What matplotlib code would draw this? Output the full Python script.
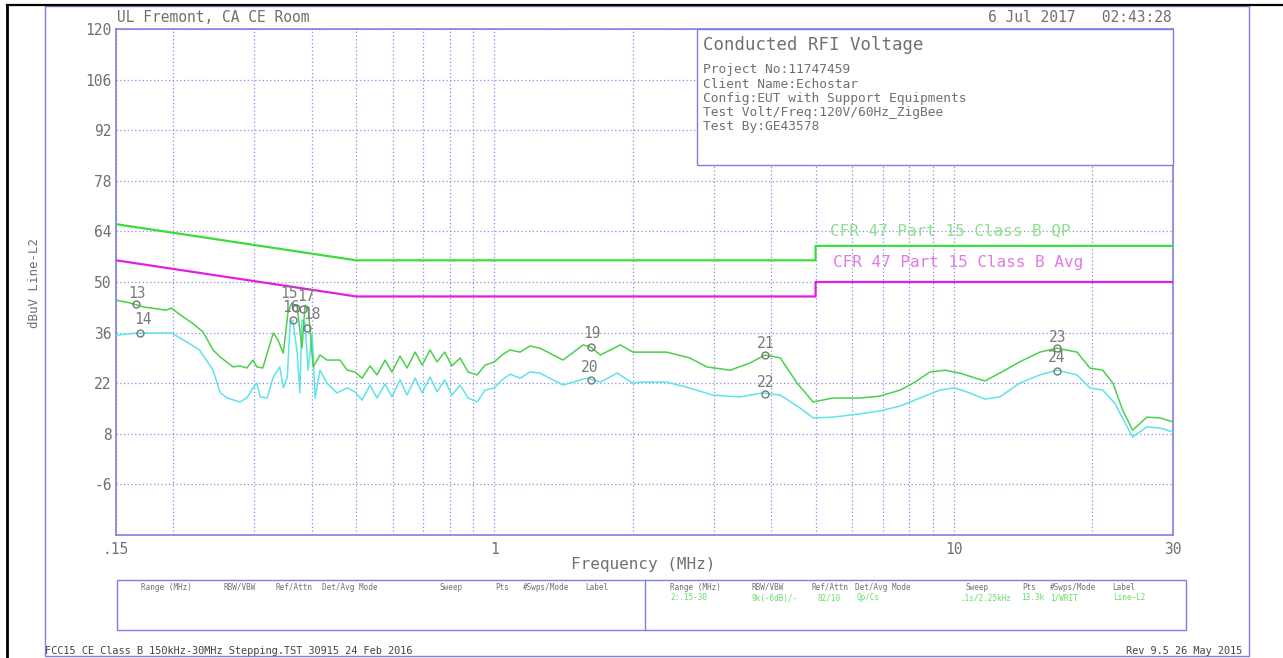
import matplotlib
matplotlib.use("Agg")
import matplotlib.pyplot as plt
from matplotlib.patches import Rectangle
from matplotlib.lines import Line2D

# ---------------- data ----------------
qp_freq = [0.150, 0.161, 0.172, 0.193, 0.198, 0.207, 0.220, 0.232, 0.244, 0.253,
           0.270, 0.279, 0.289, 0.298, 0.304, 0.313, 0.330, 0.338, 0.347, 0.355,
           0.362, 0.372, 0.381, 0.387, 0.393, 0.403, 0.417, 0.432, 0.461, 0.478,
           0.497, 0.515, 0.536, 0.555, 0.578, 0.598, 0.623, 0.645, 0.672, 0.696,
           0.724, 0.750, 0.779, 0.808, 0.842, 0.876, 0.917, 0.954, 1.000, 1.038,
           1.081, 1.137, 1.195, 1.256, 1.41, 1.56, 1.62, 1.70, 1.88, 2.00,
           2.37, 2.66, 2.90, 3.26, 3.60, 3.88, 4.19, 4.56, 4.94, 5.45,
           6.24, 6.89, 7.64, 8.23, 8.87, 9.56, 10.30, 11.68, 12.59, 13.91,
           15.39, 16.77, 18.54, 19.78, 21.10, 22.2, 23.3, 24.5, 26.3, 28.1, 30.0]
qp_level = [45.0, 44.2, 43.1, 42.2, 42.8, 40.9, 38.6, 36.2, 31.2, 29.2,
            26.5, 26.8, 26.2, 28.4, 26.5, 26.2, 35.9, 33.9, 30.3, 41.4,
            44.2, 43.1, 31.7, 43.6, 43.1, 26.5, 29.8, 28.4, 28.4, 25.6,
            25.1, 23.4, 26.8, 24.3, 28.4, 25.1, 29.5, 26.2, 30.6, 27.0,
            31.2, 27.9, 30.6, 26.8, 29.0, 25.1, 24.3, 27.0, 27.9, 29.8,
            31.2, 30.6, 32.3, 31.7, 28.4, 32.6, 32.0, 29.8, 32.6, 30.6,
            30.6, 29.0, 26.5, 25.6, 27.6, 29.8, 29.0, 22.0, 16.8, 17.9,
            17.9, 18.4, 20.1, 22.3, 25.1, 25.6, 24.8, 22.6, 24.8, 27.9,
            30.6, 31.7, 30.6, 26.2, 25.6, 22.0, 14.6, 9.0, 12.6, 12.4, 11.3]

avg_freq = [0.150, 0.169, 0.198, 0.214, 0.228, 0.244, 0.253, 0.262, 0.279, 0.289,
            0.298, 0.304, 0.309, 0.320, 0.330, 0.341, 0.347, 0.354, 0.359, 0.364,
            0.372, 0.377, 0.381, 0.387, 0.393, 0.401, 0.407, 0.417, 0.432, 0.454,
            0.478, 0.497, 0.515, 0.536, 0.555, 0.578, 0.598, 0.623, 0.645, 0.672,
            0.696, 0.724, 0.750, 0.779, 0.808, 0.842, 0.876, 0.917, 0.954, 1.000,
            1.038, 1.081, 1.137, 1.195, 1.256, 1.41, 1.59, 1.70, 1.85, 2.00,
            2.07, 2.37, 2.62, 2.99, 3.43, 3.83, 4.19, 4.63, 4.94, 5.45,
            6.24, 6.89, 7.64, 8.44, 9.32, 10.04, 10.83, 11.68, 12.59, 13.91,
            15.39, 16.77, 18.54, 19.78, 21.10, 22.4, 23.6, 24.5, 26.3, 28.1, 30.0]
avg_level = [35.3, 35.9, 35.9, 33.4, 31.2, 25.6, 19.3, 17.9, 16.8, 17.9,
             20.7, 22.0, 18.2, 17.9, 23.7, 26.5, 20.7, 23.7, 38.6, 39.5,
             30.3, 19.3, 39.5, 38.6, 25.6, 35.9, 17.9, 25.6, 22.0, 19.3,
             20.7, 19.6, 17.3, 21.5, 17.9, 21.8, 18.2, 22.9, 18.7, 23.4,
             19.3, 23.7, 19.6, 22.9, 18.7, 21.5, 17.9, 16.8, 20.1, 20.7,
             22.9, 24.5, 23.4, 25.1, 24.8, 21.5, 23.4, 22.3, 24.8, 22.0,
             22.3, 22.3, 20.9, 18.7, 18.2, 19.3, 18.7, 15.1, 12.4, 12.6,
             13.5, 14.3, 15.7, 17.9, 20.1, 20.7, 19.3, 17.6, 18.2, 22.0,
             24.3, 25.6, 24.3, 20.7, 20.1, 16.5, 11.0, 7.1, 9.9, 9.6, 8.5]

qp_limit_freq = [0.15, 0.5, 5.0, 5.0, 30.0]
qp_limit_level = [66, 56, 56, 60, 60]
avg_limit_freq = [0.15, 0.5, 5.0, 5.0, 30.0]
avg_limit_level = [56, 46, 46, 50, 50]

marker_ids = ["13", "14", "15", "16", "17", "18", "19", "20", "21", "22", "23", "24"]
marker_freq = [0.166, 0.169, 0.370, 0.365, 0.383, 0.391, 1.62, 1.62, 3.88, 3.88, 16.8, 16.8]
marker_level = [43.9, 35.9, 42.8, 39.5, 42.5, 37.3, 32.0, 22.9, 29.8, 19.0, 31.7, 25.4]

y_ticks = [-6, 8, 22, 36, 50, 64, 78, 92, 106, 120]
x_ticks = [0.15, 1, 10, 30]
x_tick_labels = [".15", "1", "10", "30"]
x_grid_minor = [0.2, 0.3, 0.4, 0.5, 0.6, 0.7, 0.8, 0.9,
                2, 3, 4, 5, 6, 7, 8, 9, 20]

info_title = "Conducted RFI Voltage"
info_lines = ["Project No:11747459",
              "Client Name:Echostar",
              "Config:EUT with Support Equipments",
              "Test Volt/Freq:120V/60Hz_ZigBee",
              "Test By:GE43578"]

table_headers = ["Range (MHz)", "RBW/VBW", "Ref/Attn", "Det/Avg Mode",
                 "Sweep", "Pts", "#Swps/Mode", "Label"]
table_values = ["2:.15-30", "9k(-6dB)/-", "82/10", "Qp/Cs",
                ".1s/2.25kHz", "13.3k", "1/WRIT", "Line-L2"]

# ---------------- styling ----------------
W, H = 1283, 658
BLUE = "#7f7fe0"
GRID = "#8c8ce8"
TXT = "#707070"
QP_LIM = "#3ddc3d"
AVG_LIM = "#e020e0"
QP_TRACE = "#4ccf4c"
AVG_TRACE = "#5fe3ea"

plt.rcParams["font.family"] = ["DejaVu Sans Mono", "DejaVu Sans"]

fig = plt.figure(figsize=(W / 100, H / 100), dpi=100)


def fx(x):
    return x / W


def fy(y):
    return 1 - y / H


def ftext(x, y, s, **kw):
    kw.setdefault("color", TXT)
    fig.text(fx(x), fy(y), s, **kw)


# page borders
fig.add_artist(Line2D([fx(7), fx(7)], [fy(5), fy(660)], color="black", lw=2))
fig.add_artist(Line2D([fx(7), fx(1283)], [fy(5), fy(5)], color="black", lw=1.6))
fig.add_artist(Rectangle((fx(45), fy(656)), fx(1249 - 45), (656 - 6) / H,
                         fill=False, edgecolor=BLUE, lw=1.0))

# main axes
ax = fig.add_axes([fx(116), fy(535), fx(1173 - 116), (535 - 29) / H])
ax.set_xscale("log")
ax.set_xlim(0.15, 30)
ax.set_ylim(-20, 120)
ax.set_xticks(x_ticks)
ax.set_xticklabels(x_tick_labels)
ax.set_xticks(x_grid_minor, minor=True)
ax.xaxis.set_minor_formatter(matplotlib.ticker.NullFormatter())
ax.set_yticks(y_ticks)
ax.set_yticklabels([str(v) for v in y_ticks])
ax.tick_params(which="both", length=0, labelsize=10.5, labelcolor=TXT)
ax.tick_params(axis="x", pad=5)
ax.tick_params(axis="y", pad=3)
for s in ax.spines.values():
    s.set_color(BLUE)
    s.set_linewidth(1.2)
ax.grid(which="both", axis="x", color=GRID, linestyle=(0, (1, 2)), lw=0.9)
ax.grid(which="major", axis="y", color=GRID, linestyle=(0, (1, 2)), lw=0.9)
ax.set_axisbelow(True)

# limit lines and traces
ax.plot(qp_limit_freq, qp_limit_level, color=QP_LIM, lw=1.6, zorder=3)
ax.plot(avg_limit_freq, avg_limit_level, color=AVG_LIM, lw=1.6, zorder=3)
ax.plot(avg_freq, avg_level, color=AVG_TRACE, lw=1.1, zorder=4)
ax.plot(qp_freq, qp_level, color=QP_TRACE, lw=1.1, zorder=5)

# markers with their numbers
ax.plot(marker_freq, marker_level, linestyle="none", marker="o", markersize=5,
        markerfacecolor="none", markeredgecolor="#777777", mew=1.0, zorder=6)
label_offsets_px = [(1, 11), (3, 13), (-7, 15), (-2, 12), (3, 13), (5, 13),
                    (1, 14), (-1, 12), (1, 12), (1, 12), (0, 11), (-1, 13)]
for mid, f, v, (dx, dy) in zip(marker_ids, marker_freq, marker_level, label_offsets_px):
    ax.annotate(mid, (f, v), xytext=(dx * 0.72, dy * 0.72), textcoords="offset points",
                ha="center", va="center", fontsize=10.5, color="#7a7a7a", zorder=7)

# limit labels
ftext(830, 231, "CFR 47 Part 15 Class B QP", fontsize=11.5, color="#8de08d",
      va="center", ha="left")
ftext(833, 263, "CFR 47 Part 15 Class B Avg", fontsize=11.5, color="#e27ae2",
      va="center", ha="left")

# info box
fig.add_artist(Rectangle((fx(697), fy(165)), fx(1173 - 697), (165 - 29) / H,
                         facecolor="white", edgecolor=BLUE, lw=1.0, zorder=10))
ftext(703, 45, info_title, fontsize=12.5, va="center", ha="left", zorder=11)
for i, line in enumerate(info_lines):
    ftext(703, 70 + i * 14.2, line, fontsize=9.3, va="center", ha="left", zorder=11)

# header / labels
ftext(117, 18, "UL Fremont, CA CE Room", fontsize=10.5, va="center", ha="left")
ftext(1172, 18, "6 Jul 2017   02:43:28", fontsize=10.5, va="center", ha="right")
ftext(643, 565, "Frequency (MHz)", fontsize=11.5, va="center", ha="center")
ftext(35, 283, "dBuV Line-L2", fontsize=9, va="center", ha="center", rotation=90)

# settings table
fig.add_artist(Rectangle((fx(117), fy(630)), fx(1186 - 117), 50 / H,
                         fill=False, edgecolor=BLUE, lw=1.0))
fig.add_artist(Line2D([fx(645), fx(645)], [fy(580), fy(630)], color=BLUE, lw=1.0))
left_cols = [141, 224, 276, 322, 440, 495, 523, 585]
right_cols = [670, 752, 812, 855, 966, 1022, 1050, 1112]
value_cols = [670, 752, 817, 857, 960, 1021, 1050, 1113]
for x, h in zip(left_cols, table_headers):
    ftext(x, 587, h, fontsize=5.5, va="center", ha="left")
for x, h in zip(right_cols, table_headers):
    ftext(x, 587, h, fontsize=5.5, va="center", ha="left")
for x, v in zip(value_cols, table_values):
    ftext(x, 598, v, fontsize=5.5, va="center", ha="left", color="#66dd66")

# footer
ftext(45, 651, "FCC15 CE Class B 150kHz-30MHz Stepping.TST 30915 24 Feb 2016",
      fontsize=7.4, va="center", ha="left", color="#444444")
ftext(1242, 651, "Rev 9.5 26 May 2015", fontsize=7.4, va="center", ha="right",
      color="#444444")

fig.savefig("out.png", dpi=100, facecolor="white")
